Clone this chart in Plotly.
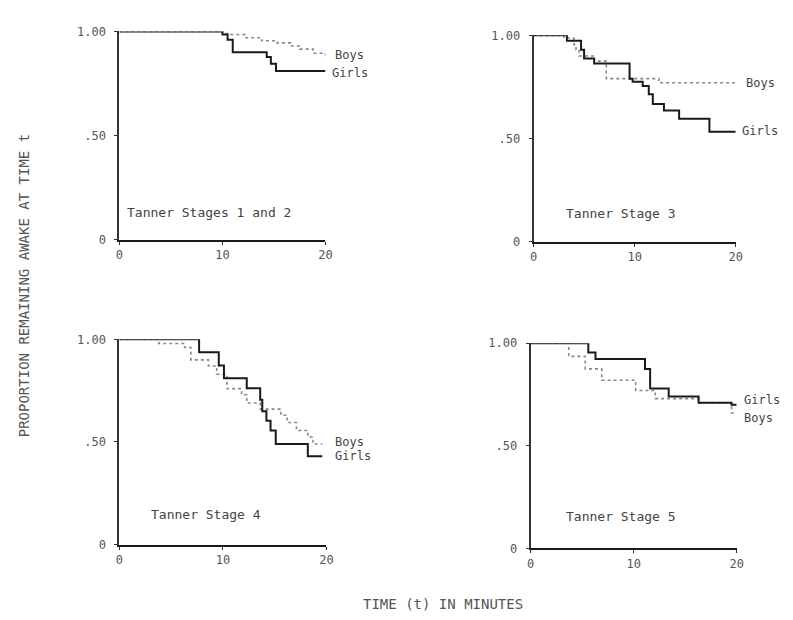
import plotly.graph_objects as go

# ---- data ----
p1_girls_t = [0, 10.0, 10.5, 11.0, 14.3, 14.7, 15.2, 20.0]
p1_girls_s = [1.00, 0.985, 0.96, 0.90, 0.877, 0.845, 0.81, 0.81]
p1_boys_t = [0, 10.2, 10.8, 12.2, 13.8, 15.3, 16.6, 17.5, 18.8, 20.0]
p1_boys_s = [1.00, 0.99, 0.985, 0.97, 0.955, 0.945, 0.93, 0.915, 0.895, 0.885]

p2_girls_t = [0, 3.3, 4.7, 5.0, 6.0, 9.5, 9.8, 10.8, 11.4, 11.8, 12.9, 14.4, 17.4, 20.0]
p2_girls_s = [1.00, 0.974, 0.93, 0.888, 0.863, 0.79, 0.775, 0.755, 0.715, 0.667, 0.636, 0.596, 0.532, 0.532]
p2_boys_t = [0, 3.0, 4.0, 4.2, 4.5, 6.0, 7.2, 12.4, 20.0]
p2_boys_s = [1.00, 0.987, 0.955, 0.93, 0.90, 0.875, 0.79, 0.77, 0.77]

p3_girls_t = [0, 7.7, 9.6, 10.1, 12.3, 13.6, 13.8, 14.2, 14.6, 15.1, 15.6, 18.2, 19.6]
p3_girls_s = [1.00, 0.937, 0.873, 0.81, 0.762, 0.706, 0.65, 0.603, 0.556, 0.49, 0.49, 0.43, 0.43]
p3_boys_t = [0, 3.8, 6.3, 6.9, 8.6, 9.4, 10.4, 11.8, 12.3, 13.6, 15.6, 16.2, 17.1, 18.2, 18.7, 19.6]
p3_boys_s = [1.00, 0.98, 0.96, 0.90, 0.87, 0.83, 0.76, 0.73, 0.69, 0.66, 0.63, 0.595, 0.556, 0.524, 0.49, 0.49]

p4_girls_t = [0, 5.6, 6.3, 11.1, 11.6, 13.4, 16.3, 19.5, 20.0]
p4_girls_s = [1.00, 0.955, 0.923, 0.875, 0.78, 0.74, 0.71, 0.70, 0.70]
p4_boys_t = [0, 3.7, 5.3, 6.9, 10.2, 12.1, 16.3, 19.5, 20.0]
p4_boys_s = [1.00, 0.936, 0.875, 0.82, 0.77, 0.73, 0.71, 0.66, 0.66]

panel_titles = ["Tanner Stages 1 and 2", "Tanner Stage 3", "Tanner Stage 4", "Tanner Stage 5"]
x_tickvals = [0, 10, 20]
x_ticktext = ["0", "10", "20"]
y_tickvals = [0, 0.5, 1.0]
y_ticktext = ["0", ".50", "1.00"]
x_title = "TIME (t) IN MINUTES"
y_title = "PROPORTION REMAINING AWAKE AT TIME t"

W, H = 793, 620
MONO = "DejaVu Sans Mono, Liberation Mono, monospace"
XMAX, YMAX = 20.0, 1.0

# pixel boxes of each panel (left, right, top, bottom)
boxes = [(117, 326, 25, 238), (537, 742, 29, 240), (117, 327, 340, 550), (534, 743, 344, 554)]

series = [
    (p1_girls_t, p1_girls_s, p1_boys_t, p1_boys_s),
    (p2_girls_t, p2_girls_s, p2_boys_t, p2_boys_s),
    (p3_girls_t, p3_girls_s, p3_boys_t, p3_boys_s),
    (p4_girls_t, p4_girls_s, p4_boys_t, p4_boys_s),
]

# label positions in data coordinates of each panel: title(x,y), boys(x,y), girls(x,y)
label_pos = [
    ((0.5, 0.13), (20.7, 0.885), (20.4, 0.80)),
    ((3.0, 0.137), (20.8, 0.768), (20.4, 0.535)),
    ((2.9, 0.148), (20.6, 0.50), (20.6, 0.43)),
    ((3.2, 0.157), (20.5, 0.638), (20.5, 0.724)),
]

fig = go.Figure()
layout = dict(
    width=W, height=H, autosize=False,
    margin=dict(l=0, r=0, t=0, b=0),
    paper_bgcolor="white", plot_bgcolor="white",
    showlegend=False,
    font=dict(family=MONO, color="#444"),
)
annotations = []


def to_paper(box, x, y):
    l, r, t, b = box
    px = l + (x / XMAX) * (r - l)
    py = b - (y / YMAX) * (b - t)
    return px / W, 1 - py / H


for i, (box, (gt, gs, bt, bs)) in enumerate(zip(boxes, series)):
    l, r, t, b = box
    n = i + 1
    xa = "x" if n == 1 else f"x{n}"
    ya = "y" if n == 1 else f"y{n}"
    fig.add_trace(go.Scatter(x=bt, y=bs, mode="lines", line=dict(shape="hv", color="#888", width=1.6, dash="dot"),
                             xaxis=xa, yaxis=ya, cliponaxis=False, hoverinfo="skip"))
    fig.add_trace(go.Scatter(x=gt, y=gs, mode="lines", line=dict(shape="hv", color="#1a1a1a", width=2),
                             xaxis=xa, yaxis=ya, cliponaxis=False, hoverinfo="skip"))
    layout[f"xaxis{'' if n == 1 else n}"] = dict(
        domain=[l / W, r / W], range=[0, XMAX], anchor=ya,
        showgrid=False, zeroline=False, showline=True, linecolor="#1a1a1a", linewidth=2,
        tickvals=x_tickvals, ticktext=x_ticktext, ticks="outside", ticklen=3, tickcolor="#333",
        tickfont=dict(family=MONO, size=12, color="#555"),
    )
    layout[f"yaxis{'' if n == 1 else n}"] = dict(
        domain=[1 - b / H, 1 - t / H], range=[0, YMAX], anchor=xa,
        showgrid=False, zeroline=False, showline=True, linecolor="#333", linewidth=2,
        tickvals=y_tickvals, ticktext=y_ticktext, ticks="outside", ticklen=3, tickcolor="#333",
        ticklabelstandoff=6,
        tickfont=dict(family=MONO, size=12, color="#555"),
    )
    (tx, ty), (bx, by), (gx, gy) = label_pos[i]
    for (lx, ly), txt, size in (((tx, ty), panel_titles[i], 13), ((bx, by), "Boys", 12), ((gx, gy), "Girls", 12)):
        ax_, ay_ = to_paper(box, lx, ly)
        annotations.append(dict(x=ax_, y=ay_, xref="paper", yref="paper", text=txt, showarrow=False,
                                xanchor="left", yanchor="middle", font=dict(family=MONO, size=size, color="#444")))

annotations.append(dict(x=445 / W, y=1 - 611 / H, xref="paper", yref="paper", text=x_title, showarrow=False,
                        xanchor="center", yanchor="middle", font=dict(family=MONO, size=14, color="#555")))
annotations.append(dict(x=20 / W, y=1 - 285 / H, xref="paper", yref="paper", text=y_title, showarrow=False,
                        textangle=-90, xanchor="center", yanchor="middle", font=dict(family=MONO, size=14, color="#555")))

layout["annotations"] = annotations
fig.update_layout(**layout)
fig.write_html("out.html", config={"displayModeBar": False},
               post_script="document.body.style.margin='0px';document.body.style.overflow='hidden';")
